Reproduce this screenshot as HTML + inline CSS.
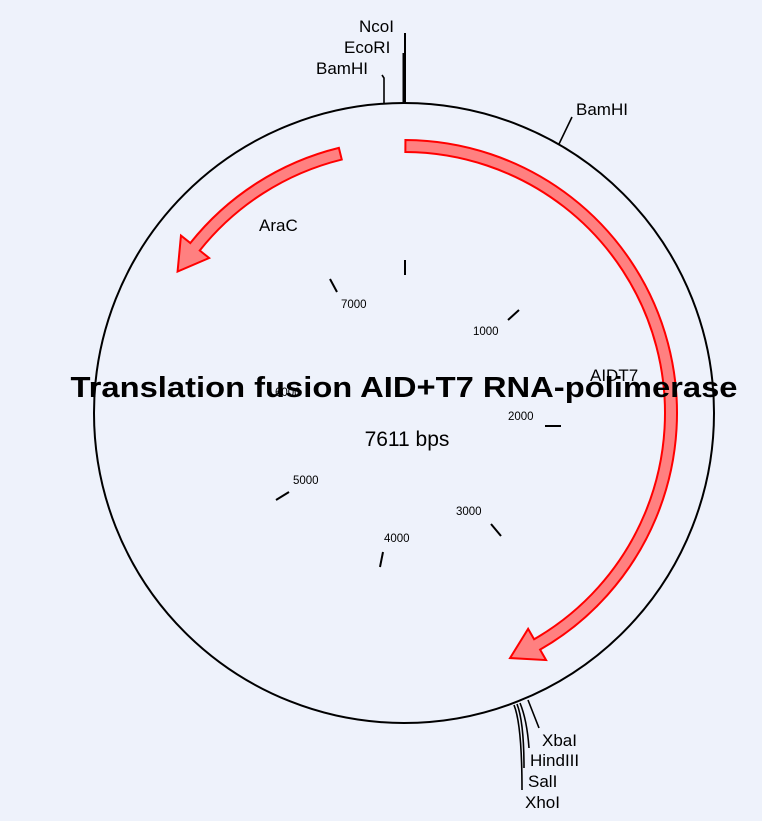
<!DOCTYPE html>
<html><head><meta charset="utf-8"><style>
html,body{margin:0;padding:0;background:#eef2fb;}
svg{display:block;font-family:"Liberation Sans",Arial,sans-serif;}
</style></head><body>
<svg id="s" width="762" height="821" viewBox="0 0 762 821" xmlns="http://www.w3.org/2000/svg">
<rect width="762" height="821" fill="#eef2fb"/>
<circle cx="404" cy="413" r="310" fill="none" stroke="#000" stroke-width="2"/>
<g id="arrows"></g>
<g stroke="#000" stroke-width="2">
<line x1="405" y1="260" x2="405" y2="275"/>
<line x1="330" y1="279" x2="337" y2="292"/>
<line x1="508" y1="320" x2="519" y2="310"/>
<line x1="545" y1="426" x2="561" y2="426"/>
<line x1="491" y1="524" x2="501" y2="536"/>
<line x1="383" y1="552" x2="380" y2="567"/>
<line x1="276" y1="500" x2="289" y2="492"/>
</g>
<g font-size="11.5" fill="#000">
<text x="341" y="308">7000</text>
<text x="473" y="335">1000</text>
<text x="508" y="420">2000</text>
<text x="456" y="515">3000</text>
<text x="384" y="542">4000</text>
<text x="293" y="484">5000</text>
<text x="275" y="396">6000</text>
</g>
<g stroke="#000">
<line x1="405" y1="33" x2="405" y2="104" stroke-width="2"/>
<line x1="404" y1="53" x2="404" y2="104" stroke-width="3"/>
<polyline points="382,75 384,78 384,104" fill="none" stroke-width="1.6"/>
<polyline points="572,117 559,144" fill="none" stroke-width="1.6"/>
<polyline points="528,700 539,728" fill="none" stroke-width="1.6"/>
<path d="M520,703 Q527,720 529,748" fill="none" stroke-width="1.6"/>
<path d="M517,704 Q524,722 524,768" fill="none" stroke-width="1.6"/>
<path d="M514,705 Q522,725 522,790" fill="none" stroke-width="1.6"/>
</g>
<g font-size="17" fill="#000">
<text x="359" y="32">NcoI</text>
<text x="344" y="53">EcoRI</text>
<text x="316" y="74">BamHI</text>
<text x="576" y="115">BamHI</text>
<text x="542" y="746">XbaI</text>
<text x="530" y="766">HindIII</text>
<text x="528" y="787">SalI</text>
<text x="525" y="808">XhoI</text>
<text x="259" y="231">AraC</text>
<text x="590" y="381">AIDT7</text>
</g>
<text x="404" y="397" font-size="29" font-weight="bold" text-anchor="middle" textLength="667" lengthAdjust="spacingAndGlyphs">Translation fusion AID+T7 RNA-polimerase</text>
<text x="407" y="446" font-size="21" text-anchor="middle">7611 bps</text>
</svg>
<script>
(function(){
var cx=404,cy=413;
function pt(r,a){a=a*Math.PI/180;return [cx+r*Math.sin(a),cy-r*Math.cos(a)];}
function arrow(a0,a1,dir){
 var ri=261,ro=273,hi=249,ho=285,rt=267,hl=6.5*dir;
 var ab=a1-hl;
 var large=Math.abs(ab-a0)>180?1:0;
 var sw=dir>0?1:0, sw2=dir>0?0:1;
 var p1=pt(ro,a0),p2=pt(ro,ab),p3=pt(ho,ab),p4=pt(rt,a1),p5=pt(hi,ab),p6=pt(ri,ab),p7=pt(ri,a0);
 var d="M"+p1+" A"+ro+","+ro+" 0 "+large+" "+sw+" "+p2+" L"+p3+" L"+p4+" L"+p5+" L"+p6+" A"+ri+","+ri+" 0 "+large+" "+sw2+" "+p7+" Z";
 var e=document.createElementNS("http://www.w3.org/2000/svg","path");
 e.setAttribute("d",d);
 e.setAttribute("fill","#ff8080");e.setAttribute("stroke","#ff0000");e.setAttribute("stroke-width","2");
 document.getElementById("arrows").appendChild(e);
}
arrow(0.3,156.6,1);
arrow(-13.8,-58,-1);
})();
</script>
</body></html>
